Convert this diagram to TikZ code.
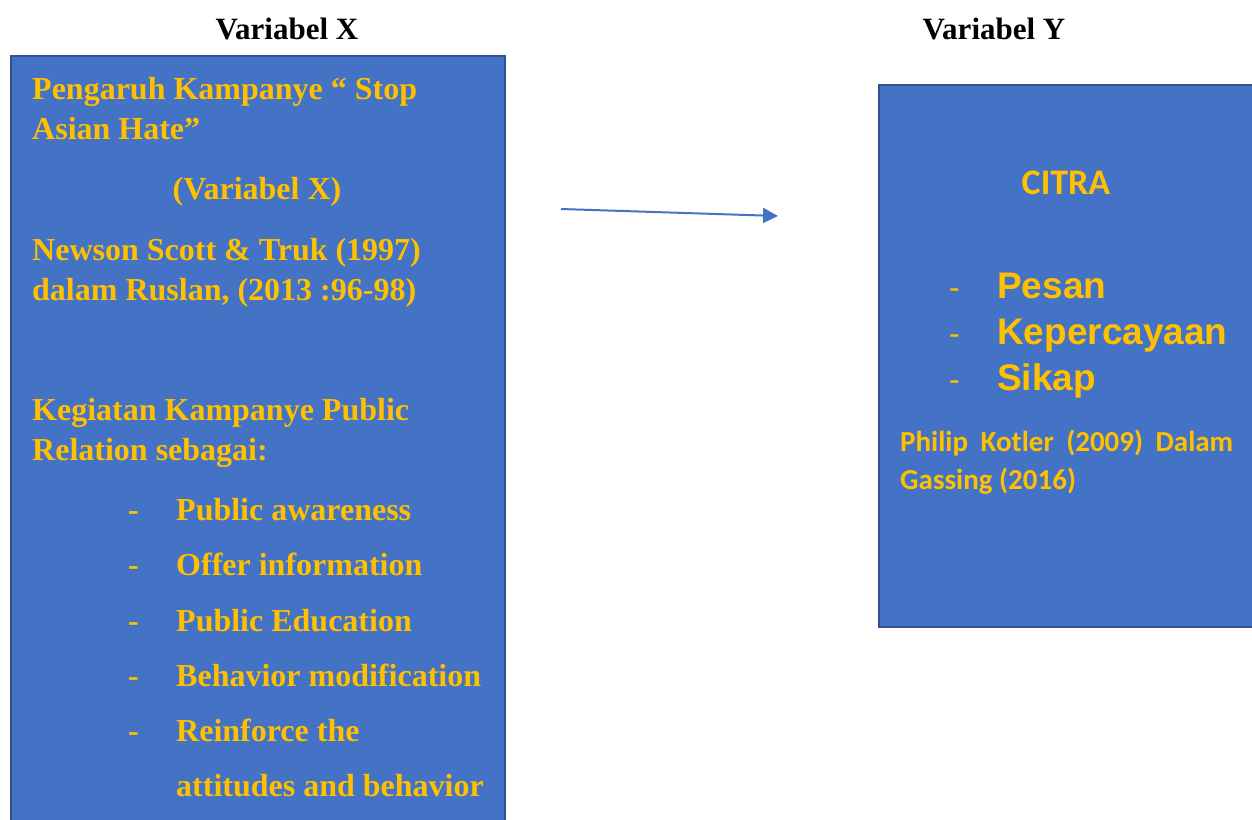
\documentclass[tikz,border=0pt]{standalone}
\usepackage{fontspec}
\newfontfamily\tnrfont{Liberation Serif}
\newfontfamily\arfont{Liberation Sans}
\newfontfamily\calfont{Carlito}
\definecolor{boxblue}{HTML}{4472C4}
\definecolor{boxedge}{HTML}{2F528F}
\definecolor{gold}{HTML}{FFC000}
\usetikzlibrary{arrows.meta}
\tikzset{
  panel/.style={fill=boxblue,draw=boxedge,line width=2pt},
  ltxt/.style={anchor=base west,inner sep=0pt,text=gold,font=\tnrfont\bfseries\fontsize{32}{38}\selectfont},
  ctxt/.style={anchor=base,inner sep=0pt,text=gold,font=\tnrfont\bfseries\fontsize{32}{38}\selectfont},
  title/.style={anchor=base,inner sep=0pt,text=black,font=\tnrfont\bfseries\fontsize{31}{37}\selectfont},
  rbig/.style={anchor=base west,inner sep=0pt,text=gold,font=\arfont\bfseries\fontsize{37}{44}\selectfont},
  rdash/.style={anchor=base west,inner sep=0pt,text=gold,font=\arfont\fontsize{32}{38}\selectfont},
  rcal/.style={anchor=base west,inner sep=0pt,text=gold,font=\calfont\bfseries\fontsize{29}{35}\selectfont},
  link/.style={draw=boxblue,line width=2pt,-{Triangle[length=15pt,width=15pt]}}
}
\begin{document}
\begin{tikzpicture}[x=1pt,y=-1pt]
\useasboundingbox (0,0) rectangle (1252,819);
\clip (0,0) rectangle (1252,819);
\fill[white] (0,0) rectangle (1252,819);
% titles
\node[title] (tx) at (287,39) {Variabel X};
\node[title] (ty) at (994,39) {Variabel Y};
% boxes
\draw[panel] (11,56) rectangle (505,840);
\draw[panel] (879,85) rectangle (1270,627);
% left text
\node[ltxt] (l1) at (32,99) {Pengaruh Kampanye “ Stop};
\node[ltxt] (l2) at (32,139) {Asian Hate”};
\node[ctxt] (l3) at (257,199) {(Variabel X)};
\node[ltxt] (l4) at (32,260) {Newson Scott \& Truk (1997)};
\node[ltxt] (l5) at (32,300) {dalam Ruslan, (2013 :96-98)};
\node[ltxt] (l6) at (32,420) {Kegiatan Kampanye Public};
\node[ltxt] (l7) at (32,460) {Relation sebagai:};
\foreach \yy/\tt [count=\i] in {520/Public awareness,575/Offer information,631/Public Education,686/Behavior modification,741/Reinforce the}{
  \node[ltxt] (d\i) at (128,\yy) {-};
  \node[ltxt] (b\i) at (176,\yy) {\tt};
}
\node[ltxt] (b6) at (176,796) {attitudes and behavior};
% right text
\node[anchor=base,inner sep=0pt,text=gold,font=\calfont\bfseries\fontsize{36}{42}\selectfont] (citra) at (1066,194) {CITRA};
\foreach \yy/\tt [count=\i] in {298/Pesan,344/Kepercayaan,390/Sikap}{
  \node[rdash] (rd\i) at (949,\yy) {-};
  \node[rbig] (r\i) at (997,\yy) {\tt};
}
\node[rcal] (k1) at (900,451) {\hbox to 333pt{Philip\hfil Kotler\hfil (2009)\hfil Dalam}};
\node[rcal] (k2) at (900,489) {Gassing (2016)};
% arrow
\coordinate (as) at (561,209);
\coordinate (ae) at (778,216);
\draw[link] (as) -- (ae);
\end{tikzpicture}
\end{document}
